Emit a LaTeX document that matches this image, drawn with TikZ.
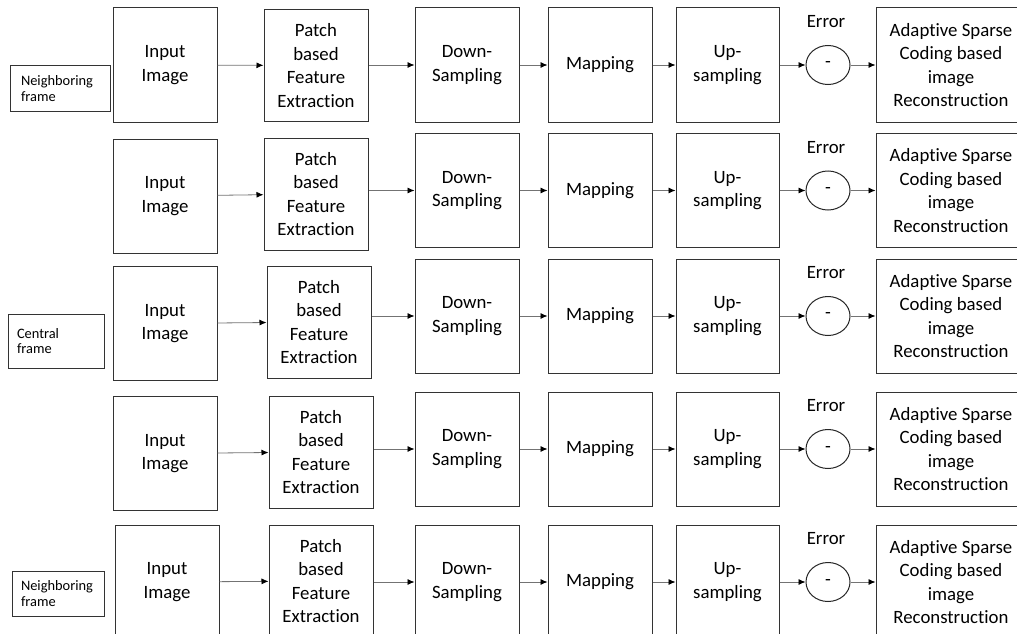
\documentclass[tikz,border=0pt]{standalone}
\usepackage{fontspec}
\setmainfont{Carlito}[RawFeature={-liga;-clig;-calt;-dlig}]
\usetikzlibrary{arrows.meta}
\usetikzlibrary{shapes.geometric}

\begin{document}
\begin{tikzpicture}[x=1pt,y=-1pt,font=\fontsize{18.8}{23.4}\selectfont,
  blk/.style={draw=black!80,line width=1pt,inner sep=0pt,align=center,minimum width=104pt,minimum height=114pt},
  framebox/.style={draw=black!80,line width=1pt,align=left,inner ysep=0pt,font=\fontsize{14.4}{15.7}\selectfont},
  diff/.style={draw=black!85,line width=1pt,ellipse,inner sep=0pt,minimum width=44pt,minimum height=39pt},
  flow/.style={draw=black!55,line width=0.8pt,-{Latex[length=7pt,width=6pt,color=black]}}]
\useasboundingbox (0,0) rectangle (1017,634);
\clip (0,0) rectangle (1017,634);
% frame labels
\node[framebox,text width=78pt,inner xsep=11pt,minimum height=45pt] (nb1) at (60,88.5) {Neighboring\\frame};
\node[framebox,text width=78pt,inner xsep=9pt,minimum height=54pt] (cf) at (56,341) {Central\\frame};
\node[framebox,text width=74pt,inner xsep=9pt,minimum height=45pt] (nb2) at (58,593.5) {Neighboring\\frame};
% one row per frame
\foreach \r/\ix/\iy/\px/\py/\yc in {1/165/65/316/65.5/65, 2/165/196/316/194/190.5, 3/165/323.5/319/322/316, 4/165/453.5/321/452/449, 5/167/582/321/581/582}{
  \node[blk] (img\r) at (\ix,\iy) {Input\\Image};
  \node[blk,minimum height=112pt] (feat\r) at (\px,\py) {Patch\\based\\Feature\\Extraction};
  \node[blk] (down\r) at (467,\yc) {Down-\\Sampling};
  \node[blk] (map\r) at (600,\yc) {Mapping};
  \node[blk,minimum width=103pt] (up\r) at (727.5,\yc) {Up-\\sampling};
  \node[diff] (err\r) at (828,\yc) {-};
  \node (lbl\r) at (826,\yc-43) {Error};
  \node[blk,minimum width=150pt] (rec\r) at (951,\yc) {Adaptive Sparse\\Coding based\\image\\Reconstruction};
  \draw[flow] (img\r) -- (feat\r);
  \draw[flow] (feat\r.east |- down\r.west) -- (down\r.west);
  \draw[flow] (down\r) -- (map\r);
  \draw[flow] (map\r) -- (up\r);
  \draw[flow] (up\r) -- (err\r);
  \draw[flow] (err\r) -- (rec\r);
}
\end{tikzpicture}
\end{document}
